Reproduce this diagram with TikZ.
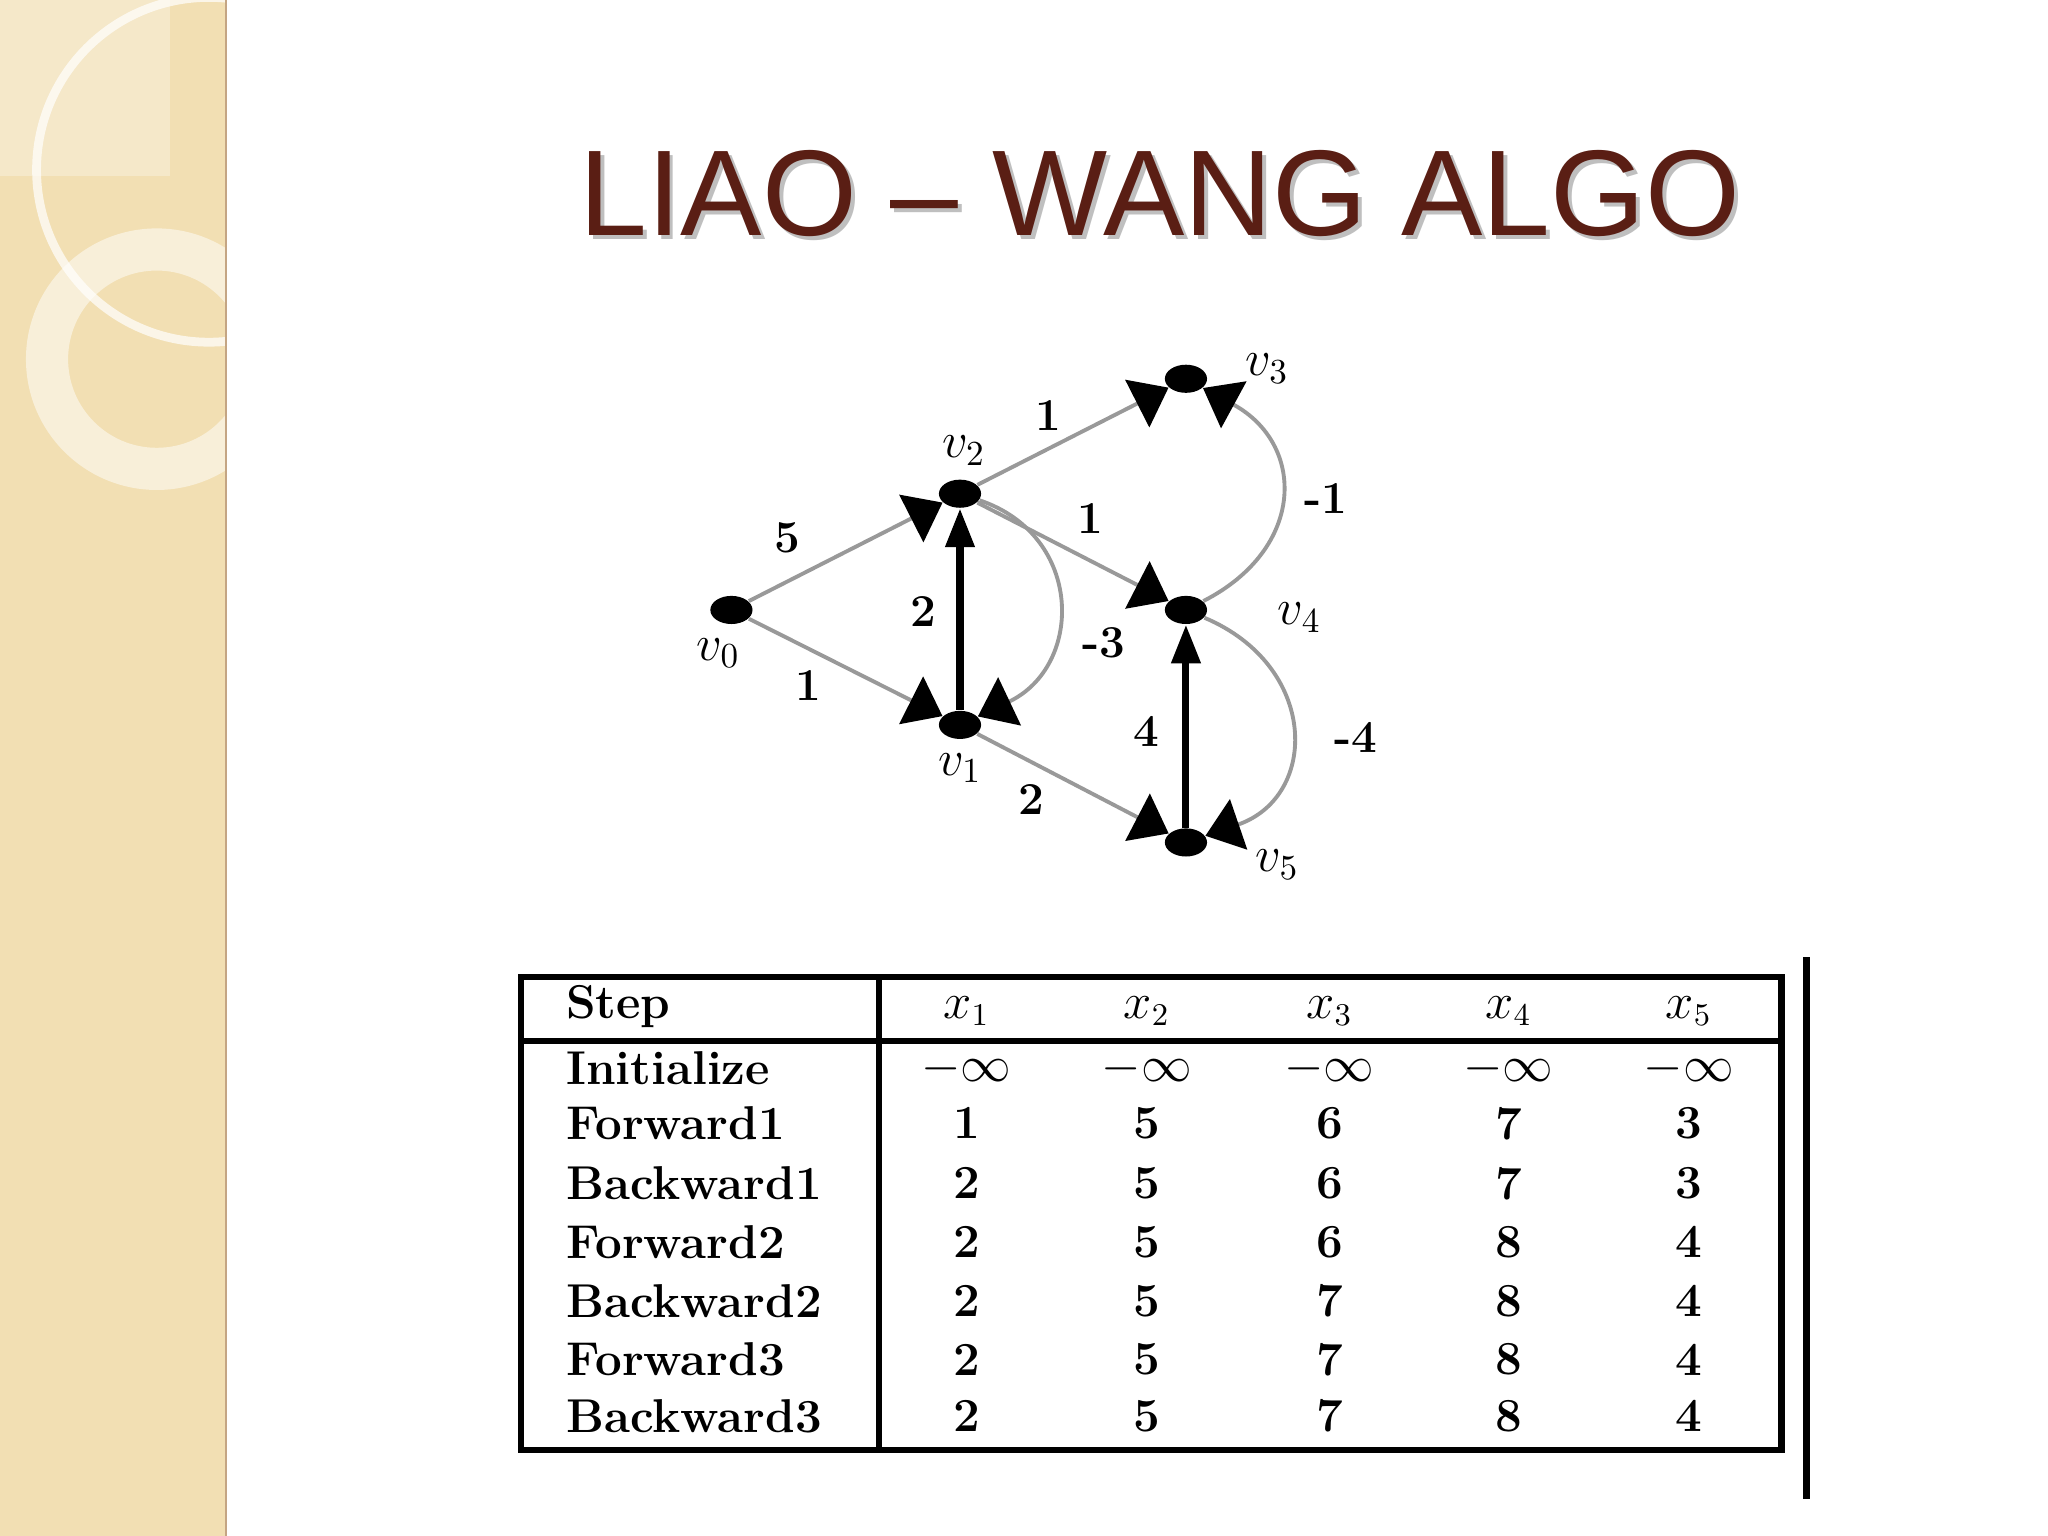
\documentclass[tikz,border=0pt]{standalone}
\usepackage{fontspec}
\newfontfamily\titlefont{Liberation Sans}
\usetikzlibrary{arrows.meta,shapes.geometric}
\definecolor{beige}{HTML}{F2DFB3}
\definecolor{brown}{HTML}{5A1E14}
\begin{document}
\begin{tikzpicture}[x=0.01306cm,y=-0.01306cm,
  vtx/.style={ellipse,fill=black,minimum width=12pt,minimum height=8pt,inner sep=0pt},
  gedge/.style={draw=gray!80,line width=1.1pt,-{Triangle[width=15pt,length=10pt,color=black]},shorten >=0pt},
  bedge/.style={draw=black,line width=2pt,-{Triangle[width=8pt,length=11pt,color=black]}},
  lbl/.style={font=\fontsize{13}{13}\selectfont\bfseries},
  vl/.style={font=\fontsize{14}{14}\selectfont},
  cell/.style={font=\fontsize{13.5}{14}\selectfont\bfseries,anchor=center},
  rowl/.style={font=\fontsize{13.5}{14}\selectfont\bfseries,anchor=west}]
\useasboundingbox (0,0) rectangle (1568,1176);
\fill[white] (0,0) rectangle (1568,1176);
\begin{scope}
\clip (0,0) rectangle (173,1176);
\fill[beige] (0,0) rectangle (173,1176);
\fill[white,opacity=0.3] (0,0) rectangle (130,135);
\draw[white,line width=2.5pt,opacity=0.7] (160,130) circle (132);
\draw[white,line width=12pt,opacity=0.5] (120,275) circle (84);
\end{scope}
\draw[beige!70!brown,line width=0.6pt] (173,0) -- (173,1176);
\node[font=\titlefont\fontsize{34.7}{36}\selectfont,text=gray!50] (tshadow) at (891,151) {LIAO \textendash{} WANG ALGO};
\node[font=\titlefont\fontsize{34.7}{36}\selectfont,text=brown] (title) at (888,148) {LIAO \textendash{} WANG ALGO};
% graph
\node[vtx] (v0) at (560,467) {};
\node[vtx] (v2) at (735,378) {};
\node[vtx] (v1) at (735,555) {};
\node[vtx] (v3) at (908,290) {};
\node[vtx] (v4) at (908,467) {};
\node[vtx] (v5) at (908,645) {};
\draw[gedge] (v0) -- (v2);
\draw[gedge] (v0) -- (v1);
\draw[gedge] (v2) -- (v3);
\draw[gedge] (v2) -- (v4);
\draw[gedge] (v1) -- (v5);
\draw[gedge] (v4) .. controls (1000,420) and (1000,340) .. (v3);
\draw[gedge] (v2) .. controls (830,410) and (830,510) .. (v1);
\draw[gedge] (v4) .. controls (1010,510) and (1010,610) .. (v5);
\draw[bedge] (v1) -- (v2);
\draw[bedge] (v5) -- (v4);
\node[vl] (l0) at (550,500) {$v_0$};
\node[vl] (l1) at (735,588) {$v_1$};
\node[vl] (l2) at (738,345) {$v_2$};
\node[vl] (l3) at (970,282) {$v_3$};
\node[vl] (l4) at (995,473) {$v_4$};
\node[vl] (l5) at (978,662) {$v_5$};
\node[lbl] (w5) at (603,412) {5};
\node[lbl] (w1a) at (619,525) {1};
\node[lbl] (w1b) at (803,318) {1};
\node[lbl] (w1c) at (835,397) {1};
\node[lbl] (w2a) at (707,468) {2};
\node[lbl] (w2b) at (790,612) {2};
\node[lbl] (w4) at (878,560) {4};
\node[lbl] (wm1) at (1015,382) {-1};
\node[lbl] (wm3) at (845,492) {-3};
\node[lbl] (wm4) at (1038,565) {-4};
% table
\draw[line width=1.8pt] (399,748) rectangle (1364,1110);
\draw[line width=1.8pt] (673,748) -- (673,1110);
\draw[line width=1.8pt] (399,797) -- (1364,797);
\draw[line width=2pt] (1383,733) -- (1383,1148);
\node[rowl] (hs) at (424,771) {Step};
\foreach \c/\x in {1/740,2/878,3/1018,4/1155,5/1293}
  \node[cell] (h\c) at (\x,774) {$x_{\c}$};
\foreach \r/\y/\n/\a/\b/\c/\d/\e in {
  1/818/Initialize/$-\infty$/$-\infty$/$-\infty$/$-\infty$/$-\infty$,
  2/860/Forward1/1/5/6/7/3,
  3/906/Backward1/2/5/6/7/3,
  4/951/Forward2/2/5/6/8/4,
  5/996/Backward2/2/5/7/8/4,
  6/1041/Forward3/2/5/7/8/4,
  7/1084/Backward3/2/5/7/8/4}{
  \node[rowl] (r\r) at (424,\y) {\n};
  \node[cell] (c\r a) at (740,\y) {\a};
  \node[cell] (c\r b) at (878,\y) {\b};
  \node[cell] (c\r c) at (1018,\y) {\c};
  \node[cell] (c\r d) at (1155,\y) {\d};
  \node[cell] (c\r e) at (1293,\y) {\e};
}
\end{tikzpicture}
\end{document}
